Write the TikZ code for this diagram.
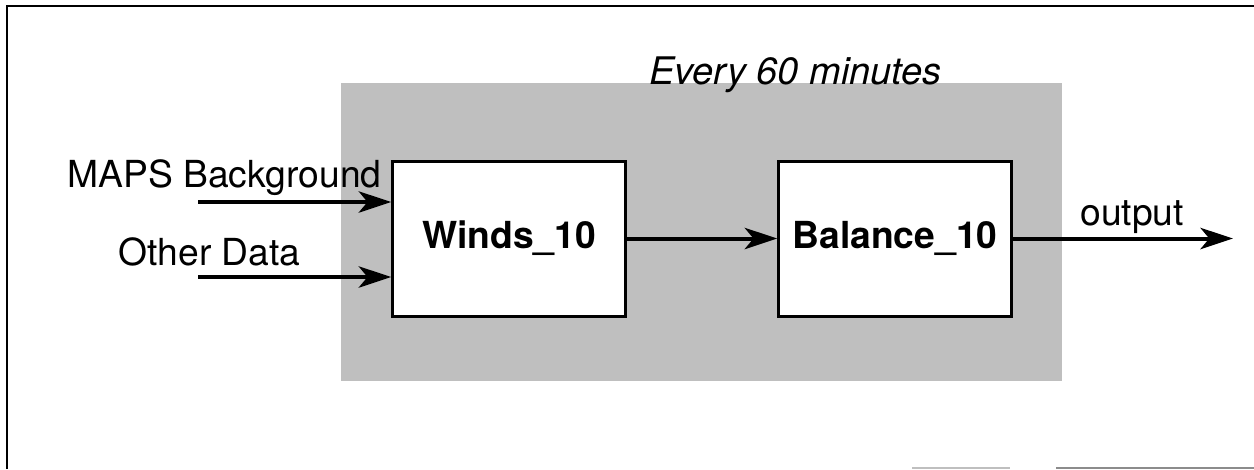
\documentclass[tikz,border=0pt]{standalone}
\usepackage{fontspec}
\setmainfont{TeX Gyre Heros}
\usetikzlibrary{arrows.meta}
\begin{document}
\begin{tikzpicture}[x=0.4pt,y=-0.4pt,
  font=\fontsize{14.9}{17}\selectfont,
  procbox/.style={draw=black, line width=1.2pt, fill=white, inner sep=0pt,
    minimum width=93pt, minimum height=62pt, font=\fontsize{14.9}{17}\selectfont\bfseries},
  flow/.style={line width=1.6pt, -{Stealth[length=13pt,width=8.5pt,inset=3.5pt]}},
  lbl/.style={inner sep=0pt}]
\useasboundingbox (0,0) rectangle (1254,469);
% frame
\draw[line width=1.1pt] (7,469) -- (7,6) -- (1254,6);
\draw[line width=0.8pt, black!25] (912,467.5) -- (1010,467.5);
\draw[line width=0.8pt, black!45] (1056,467.5) -- (1254,467.5);
% shaded region
\fill[black!25] (341,83) rectangle (1062,381);
\node[lbl, anchor=base west, font=\fontsize{15.2}{17}\selectfont\itshape] (every) at (649,84) {Every 60 minutes};
% boxes
\node[procbox] (winds) at (509,238.5) {Winds\_10};
\node[procbox] (bal) at (895,238.5) {Balance\_10};
% inputs
\coordinate (mapsin) at (198,202);
\coordinate (otherin) at (198,277);
\coordinate (outend) at (1233,238.5);
\node[lbl, anchor=base east] (mapslbl) at (382,187) {MAPS Background};
\node[lbl, anchor=base west] (otherlbl) at (118,265) {Other Data};
\node[lbl, anchor=base west] (outlbl) at (1080,225) {output};
\draw[flow] (mapsin) -- (mapsin -| winds.west);
\draw[flow] (otherin) -- (otherin -| winds.west);
\draw[flow] (winds) -- (bal);
\draw[flow] (bal.east) -- (outend);
\end{tikzpicture}
\end{document}
